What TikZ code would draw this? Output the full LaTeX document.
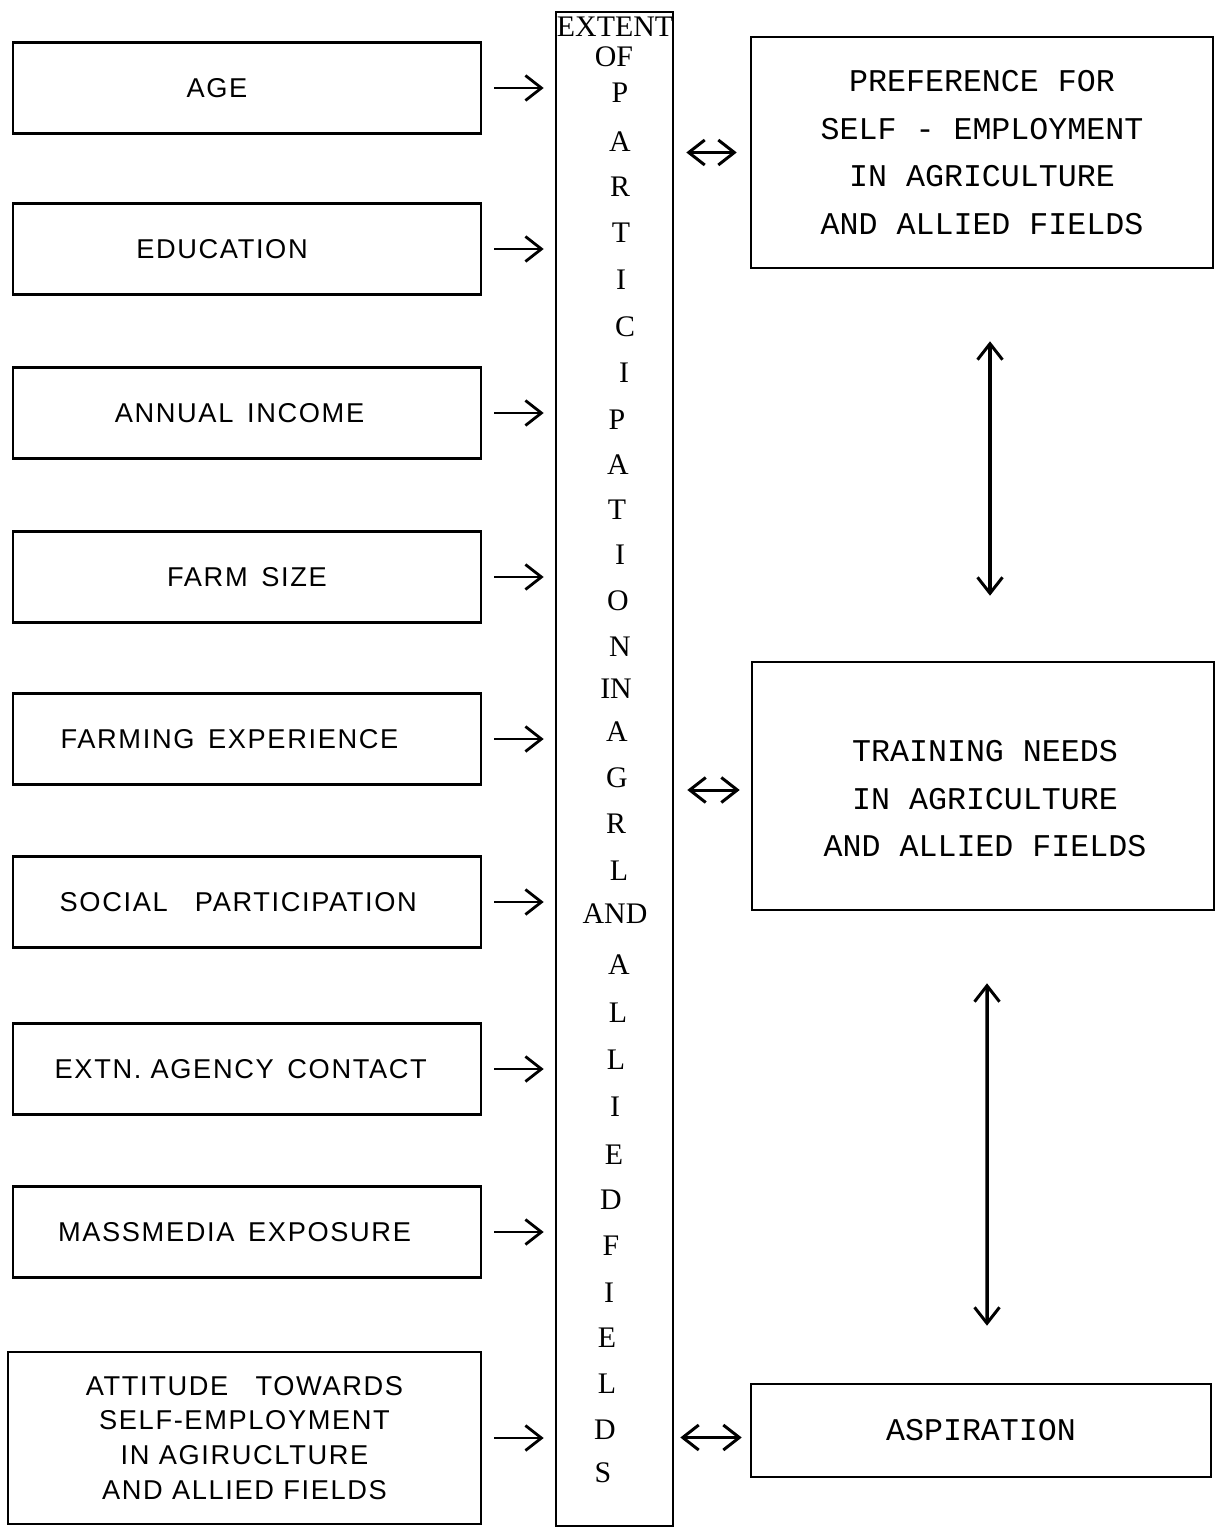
\documentclass[tikz,border=0pt]{standalone}
\usepackage{fontspec}
\setmainfont{Liberation Serif}
\newfontfamily\boxfont[LetterSpace=6]{Liberation Sans}
\newfontfamily\typefont{Liberation Mono}
\usetikzlibrary{arrows.meta}

\begin{document}
\begin{tikzpicture}[x=0.02cm, y=-0.02cm,
  box/.style={draw, line width=1.5pt, align=center, inner sep=0pt, minimum width=9.36cm, minimum height=1.82cm, font=\boxfont\fontsize{15.5}{19.8}\selectfont},
  rbox/.style={draw, line width=1.5pt, align=center, inner sep=0pt, minimum width=9.24cm, font=\typefont\fontsize{18}{27}\selectfont},
  colchar/.style={inner sep=0pt, font=\fontsize{17}{20}\selectfont},
  arr/.style={-{Straight Barb[length=0.32cm, width=0.5cm, line width=1.6pt]}, line width=1.6pt},
  dbl/.style={{Straight Barb[length=0.32cm, width=0.5cm, line width=1.7pt]}-{Straight Barb[length=0.32cm, width=0.5cm, line width=1.7pt]}, line width=1.7pt}]
\useasboundingbox (0,0) rectangle (1215,1527);
% left column of factors
\node[box] (age) at (247,88) {AGE\hspace*{1.2cm}};
\node[box] (edu) at (247,249) {EDUCATION\hspace*{1cm}};
\node[box] (inc) at (247,413) {ANNUAL\enspace INCOME\hspace*{0.3cm}};
\node[box] (farm) at (247,577) {FARM\enspace SIZE};
\node[box] (exp) at (247,739) {FARMING\enspace EXPERIENCE\hspace*{0.7cm}};
\node[box] (soc) at (247,902) {SOCIAL\quad PARTICIPATION\hspace*{0.35cm}};
\node[box] (extn) at (247,1069) {EXTN.\ AGENCY\enspace CONTACT\hspace*{0.25cm}};
\node[box] (mass) at (247,1232) {MASSMEDIA\enspace EXPOSURE\hspace*{0.5cm}};
\node[box, minimum width=9.46cm, minimum height=3.44cm] (att) at (244.5,1438) {ATTITUDE\quad TOWARDS\\SELF-EMPLOYMENT\\IN AGIRUCLTURE\\AND ALLIED FIELDS};
% centre column
\node[draw, line width=1.5pt, minimum width=2.34cm, minimum height=30.28cm, inner sep=0pt] (col) at (614.5,769) {};
\foreach \x/\y/\t [count=\k] in {615/27/EXTENT, 614/57/OF, 620/93/P, 620/142/A, 620/187/R, 621/233/T, 621/280/I, 625/327/C, 624/373/I, 617/420/P, 618/465/A, 617/510/T, 620/555/I, 618/601/O, 620/647/N, 616/689/IN, 617/732/A, 617/778/G, 616/824/R, 619/871/L, 615/914/AND, 619/965/A, 618/1013/L, 616/1060/L, 615/1107/I, 614/1155/E, 611/1200/D, 611/1246/F, 609/1293/I, 607/1338/E, 607/1384/L, 605/1430/D, 603/1473/S}
  \node[colchar] (c\k) at (\x,\y) {\t};
% right column
\node[rbox, minimum height=4.62cm] (pref) at (982,152.5) {PREFERENCE FOR\\SELF - EMPLOYMENT\\IN AGRICULTURE\\AND ALLIED FIELDS};
\node[rbox, minimum height=4.96cm] (trn) at (983,786) {};
\node[align=center, inner sep=0pt, font=\typefont\fontsize{18}{27}\selectfont] (trntext) at (985,799) {TRAINING NEEDS\\IN AGRICULTURE\\AND ALLIED FIELDS};
\node[rbox, minimum width=9.2cm, minimum height=1.86cm] (asp) at (981,1430.5) {ASPIRATION};
% connectors
\foreach \b in {age,edu,inc,farm,exp,soc,extn,mass,att}
  \draw[arr, shorten <=0.24cm, shorten >=0.22cm] (\b.east) -- (\b.east -| col.west);
\draw[dbl, shorten <=0.24cm, shorten >=0.26cm] (pref.west -| col.east) -- (pref.west);
\draw[dbl, shorten <=0.26cm, shorten >=0.22cm] ([yshift=-0.08cm]trn.west -| col.east) -- ([yshift=-0.08cm]trn.west);
\draw[dbl, shorten <=0.12cm, shorten >=0.16cm] ([yshift=-0.14cm]asp.west -| col.east) -- ([yshift=-0.14cm]asp.west);
\draw[dbl, line width=2pt, shorten <=1.44cm, shorten >=1.3cm] ([xshift=0.16cm]pref.south) -- ([xshift=0.14cm]trn.north);
\draw[dbl, line width=2pt, shorten <=1.44cm, shorten >=1.14cm] ([xshift=0.08cm]trn.south) -- ([xshift=0.12cm]asp.north);
\end{tikzpicture}
\end{document}
